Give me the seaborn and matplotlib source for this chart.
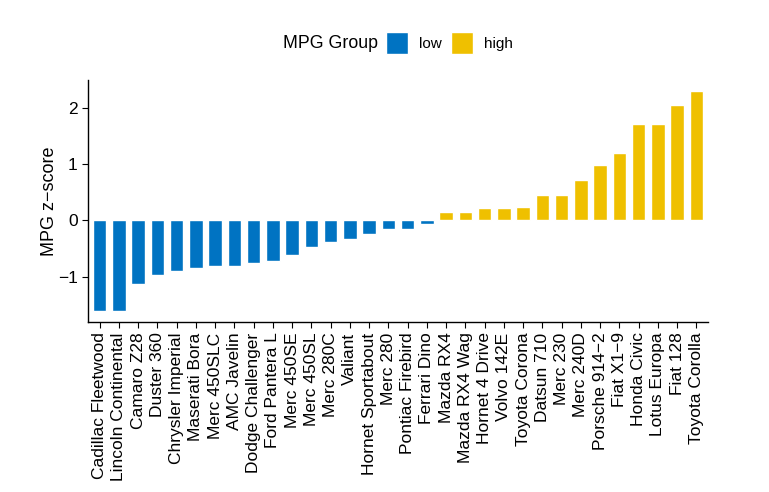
import matplotlib
matplotlib.use("Agg")
import matplotlib.pyplot as plt
import seaborn as sns
import pandas as pd
from matplotlib.patches import Patch

cars = ["Cadillac Fleetwood", "Lincoln Continental", "Camaro Z28", "Duster 360",
        "Chrysler Imperial", "Maserati Bora", "Merc 450SLC", "AMC Javelin",
        "Dodge Challenger", "Ford Pantera L", "Merc 450SE", "Merc 450SL",
        "Merc 280C", "Valiant", "Hornet Sportabout", "Merc 280", "Pontiac Firebird",
        "Ferrari Dino", "Mazda RX4", "Mazda RX4 Wag", "Hornet 4 Drive", "Volvo 142E",
        "Toyota Corona", "Datsun 710", "Merc 230", "Merc 240D", "Porsche 914\u22122",
        "Fiat X1\u22129", "Honda Civic", "Lotus Europa", "Fiat 128", "Toyota Corolla"]
zscores = [-1.608, -1.608, -1.126, -0.960, -0.894, -0.844, -0.811, -0.811,
           -0.761, -0.712, -0.612, -0.463, -0.380, -0.330, -0.231, -0.148, -0.148,
           -0.065, 0.151, 0.151, 0.217, 0.217, 0.234, 0.450, 0.450, 0.715, 0.981,
           1.196, 1.711, 1.711, 2.043, 2.291]
groups = ["low" if z < 0 else "high" for z in zscores]
colors = {"low": "#0073C2", "high": "#EFC000"}

df = pd.DataFrame({"car": cars, "z": zscores, "group": groups})

sns.set_style("white")
plt.rcParams["font.family"] = ["Liberation Sans", "DejaVu Sans"]
plt.rcParams["text.color"] = "black"
plt.rcParams["axes.labelcolor"] = "black"
plt.rcParams["xtick.color"] = "black"
plt.rcParams["ytick.color"] = "black"

fig = plt.figure(figsize=(7.69, 4.92), dpi=100)
ax = fig.add_axes([0.1144, 0.3455, 0.8063, 0.4919])
sns.barplot(data=df, x="car", y="z", hue="group", palette=colors, dodge=False,
            width=0.7, ax=ax, legend=False, order=cars, hue_order=["low", "high"],
            saturation=1)

ax.set_xlim(-0.6, len(cars) - 0.4)
ax.set_ylim(-1.80, 2.49)
ax.set_yticks([-1, 0, 1, 2])
ax.set_yticklabels(["\u22121", "0", "1", "2"])
ax.set_xlabel("")
ax.set_ylabel("MPG z\u2212score", fontsize=13, labelpad=0)
ax.tick_params(axis="x", rotation=90, labelsize=12.5, length=4, width=0.8, direction="out", bottom=True)
ax.tick_params(axis="y", labelsize=12.5, length=4, width=0.8, direction="out", left=True)
for s in ["top", "right"]:
    ax.spines[s].set_visible(False)
for s in ["left", "bottom"]:
    ax.spines[s].set_color("black")
    ax.spines[s].set_linewidth(1.0)

fig.text(283 / 769, 1 - 43 / 492, "MPG Group", fontsize=12.8, va="center", ha="left")
handles = [Patch(facecolor=colors["low"], label="low"),
           Patch(facecolor=colors["high"], label="high")]
fig.legend(handles=handles, ncol=2, loc="center left", bbox_to_anchor=(372 / 769, 1 - 43 / 492),
           frameon=False, fontsize=11, handlelength=1.45, handleheight=1.84, columnspacing=0.65,
           handletextpad=0.7)

fig.savefig("out.png", dpi=100)
